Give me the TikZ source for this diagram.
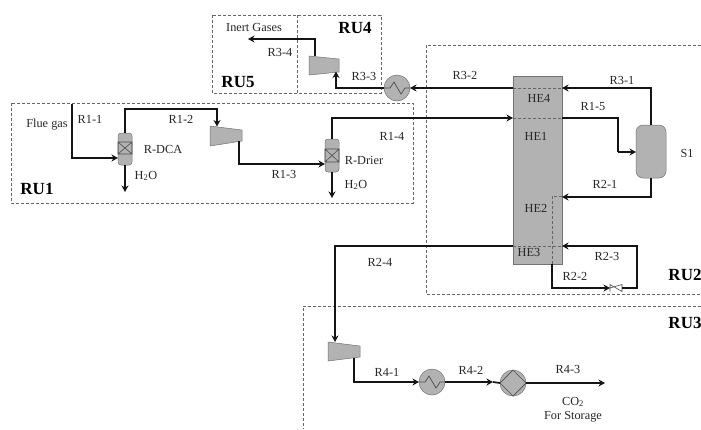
\documentclass[tikz,border=0pt]{standalone}
\usepackage{fontspec}
\setmainfont{Liberation Serif}
\usetikzlibrary{arrows.meta}
\definecolor{unitfill}{gray}{0.70}
\definecolor{linecol}{gray}{0.08}
\tikzset{
  flow/.style={draw=linecol,line width=1.7pt,-{Stealth[length=6.5pt,width=7pt]}},
  plain/.style={draw=linecol,line width=1.7pt},
  zone/.style={draw=black!60,line width=0.8pt,dash pattern=on 3pt off 2pt},
  inner/.style={draw=black!60,line width=0.7pt,dash pattern=on 3pt off 2pt},
  unit/.style={draw=black!55,fill=unitfill,line width=0.5pt,inner sep=0pt,outer sep=0pt},
  vessel/.style={unit,rounded corners=3pt,minimum width=14pt,minimum height=32pt},
  hx/.style={unit,circle,minimum size=26pt},
  lab/.style={inner sep=0pt,font=\fontsize{12.3}{14}\selectfont,text=black!85},
  tag/.style={inner sep=0pt,font=\fontsize{17}{19}\selectfont\bfseries},
}
\begin{document}
\begin{tikzpicture}[x=1pt,y=-1pt]
\useasboundingbox (0,0) rectangle (701,429);
\clip (0,0) rectangle (701,429);
% zones
\draw[zone] (11,103) rectangle (413,203);
\draw[zone] (212,15) rectangle (381,93);
\draw[zone] (297,15) -- (297,93);
\draw[zone] (701,45) -- (426,45) -- (426,294) -- (701,294);
\draw[zone] (701,306) -- (303,306) -- (303,429);
% column
\node[unit,minimum width=49pt,minimum height=188pt] (col) at (537.5,170) {};
\draw[inner] (513,88) -- (562,88);
\draw[inner] (513,118) -- (562,118);
\draw[inner] (513,246) -- (562,246);
\draw[inner] (562,196) -- (552,196) -- (552,264);
% separator and vessels
\node[unit,rounded corners=7pt,minimum width=30pt,minimum height=53pt] (s1) at (651,151.5) {};
\node[vessel] (dca) at (125,149) {};
\draw[black!70,line width=.6pt] (118,142) rectangle (132,154) (118,142) -- (132,154) (118,154) -- (132,142);
\node[vessel,minimum height=33pt] (dri) at (332,155.5) {};
\draw[black!70,line width=.6pt] (325,149) rectangle (339,162) (325,149) -- (339,162) (325,162) -- (339,149);
% compressors
\fill[unitfill,draw=black!55,line width=.5pt] (210,126) -- (242,130) -- (242,141) -- (210,146) -- cycle;
\fill[unitfill,draw=black!55,line width=.5pt] (309,56) -- (339,59) -- (339,72) -- (309,75) -- cycle;
\fill[unitfill,draw=black!55,line width=.5pt] (328,342) -- (360,346) -- (360,357) -- (328,361) -- cycle;
\coordinate (c1in) at (217,126.5);
\coordinate (c1out) at (239,141);
\coordinate (c2in) at (336,71.5);
\coordinate (c2out) at (315,56);
\coordinate (c3in) at (335,342);
\coordinate (c3out) at (354,358);
% exchangers
\node[hx] (hx1) at (397,88) {};
\draw[black!70,line width=.7pt] (384,88) -- (390,88) -- (394,82) -- (401,94) -- (405,88) -- (410,88);
\node[hx] (hx2) at (432,382) {};
\draw[black!70,line width=.7pt] (419,382) -- (425,382) -- (429,376) -- (436,388) -- (440,382) -- (445,382);
\node[hx] (hx3) at (513,383) {};
\draw[black!70,line width=.7pt] (500,383) -- (513,370) -- (526,383) -- (513,396) -- cycle;
% valve
\coordinate (vl) at (610,288);
\coordinate (vr) at (622,288);
\draw[black!70,line width=.6pt,fill=white] (vl) -- (622,284.5) -- (622,291.5) -- (610,284.5) -- (610,291.5) -- cycle;
% free ends
\coordinate (flue) at (72,104);
\coordinate (w1) at (125,192);
\coordinate (w2) at (332,198);
\coordinate (inert) at (248,39);
\coordinate (co2) at (605,383);
% connectors
\draw[flow] (flue) |- (118,158);
\draw[flow] (dca.north) -- (125,109) -| (c1in);
\draw[flow] (c1out) |- (325,164);
\draw[flow] (dri.north) |- (513,118);
\draw[plain] (562,118) -- (618,118) -- (618,152);
\draw[flow] (618,152) -- (s1.west |- 618,152);
\draw[flow] (dca.south) -- (w1);
\draw[flow] (dri.south) -- (w2);
\draw[flow] (s1.north) |- (562,88);
\draw[flow] (513,88) -- (hx1.east);
\draw[flow] (hx1.west) -| (c2in);
\draw[flow] (c2out) |- (inert);
\draw[flow] (s1.south) |- (562,197);
\draw[flow] (552,264) |- (vl);
\draw[flow] (vr) -- (637,288) -- (637,246) -- (562,246);
\draw[flow] (513,246) -| (c3in);
\draw[flow] (c3out) |- (hx2.west);
\draw[flow] (hx2.east) -- (493,382);
\draw[plain] (493,382) -- (hx3.west);
\draw[flow] (hx3.east) -- (co2);
% labels
\node[lab] (l01) at (47,125) {Flue gas};
\node[lab] (l02) at (90,119) {R1-1};
\node[lab] (l03) at (163,149) {R-DCA};
\node[lab] (l04) at (146,176) {H\textsubscript{2}O};
\node[tag] (l05) at (37,189) {RU1};
\node[lab] (l06) at (181,119) {R1-2};
\node[lab] (l07) at (284,174) {R1-3};
\node[lab] (l08) at (392,136) {R1-4};
\node[lab] (l09) at (364,160) {R-Drier};
\node[lab] (l10) at (356,185) {H\textsubscript{2}O};
\node[lab] (l11) at (254,27) {Inert Gases};
\node[tag] (l12) at (355,28) {RU4};
\node[lab] (l13) at (280,52) {R3-4};
\node[tag] (l14) at (238,82) {RU5};
\node[lab] (l15) at (364,76) {R3-3};
\node[lab] (l16) at (465,75) {R3-2};
\node[lab] (l17) at (539,98) {HE4};
\node[lab] (l18) at (622,80) {R3-1};
\node[lab] (l19) at (593,106) {R1-5};
\node[lab] (l20) at (536,136) {HE1};
\node[lab] (l21) at (687,153) {S1};
\node[lab] (l22) at (605,184) {R2-1};
\node[lab] (l23) at (536,208) {HE2};
\node[lab] (l24) at (529,252) {HE3};
\node[lab] (l25) at (607,256) {R2-3};
\node[lab] (l26) at (575,276) {R2-2};
\node[tag] (l27) at (685,275) {RU2};
\node[tag] (l28) at (685,323) {RU3};
\node[lab] (l29) at (380,262) {R2-4};
\node[lab] (l30) at (387,372) {R4-1};
\node[lab] (l31) at (471,370) {R4-2};
\node[lab] (l32) at (568,369) {R4-3};
\node[lab] (l33) at (573,402) {CO\textsubscript{2}};
\node[lab] (l34) at (573,417) {For Storage};
\end{tikzpicture}
\end{document}
